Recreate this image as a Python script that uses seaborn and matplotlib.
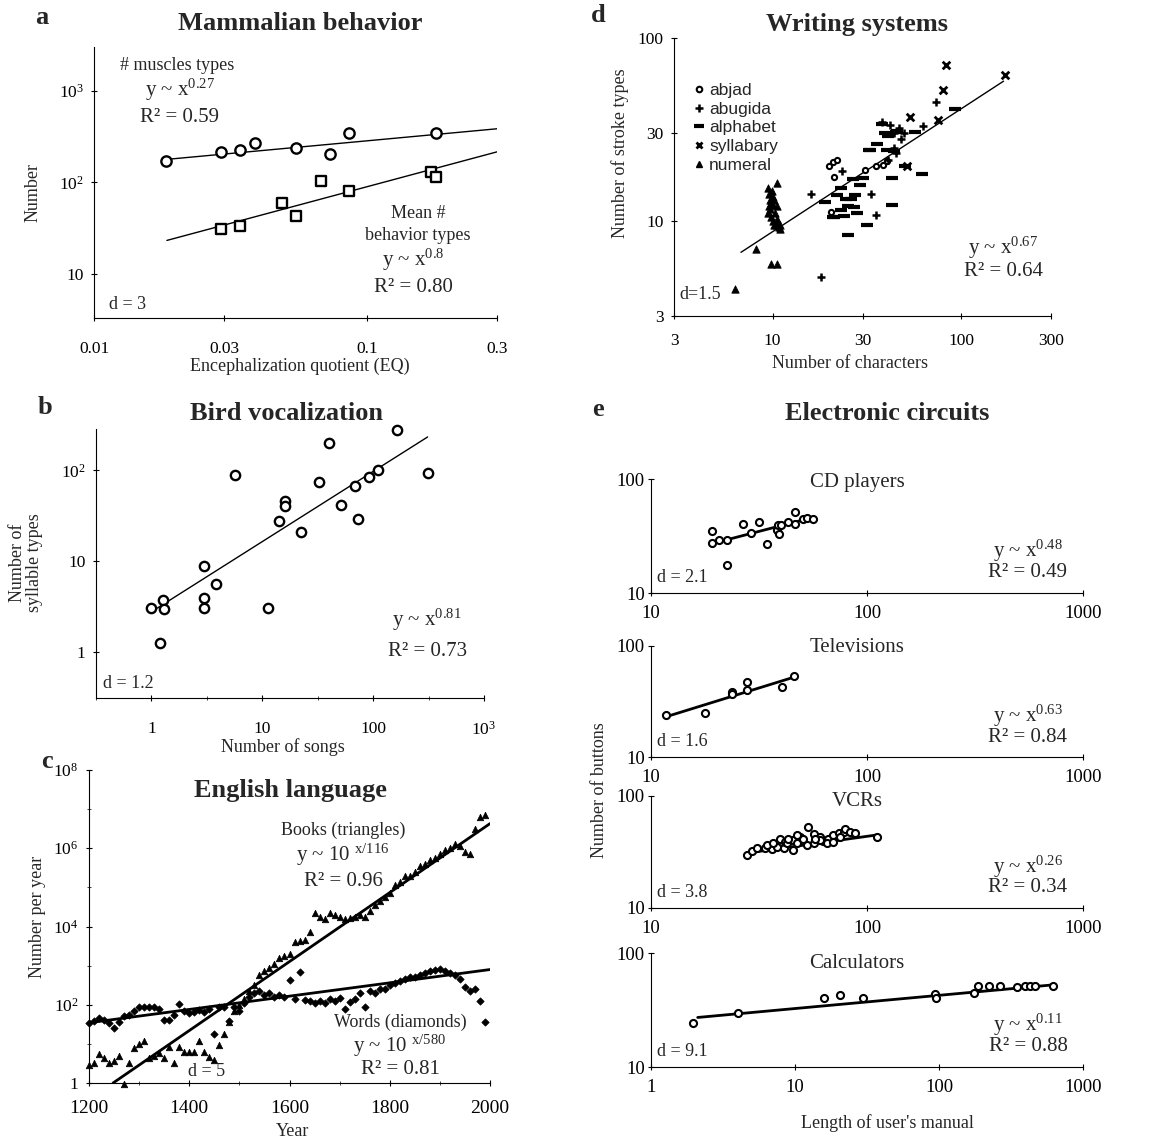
import numpy as np
import pandas as pd
import matplotlib
matplotlib.use("Agg")
import matplotlib.pyplot as plt
import seaborn as sns
from matplotlib.lines import Line2D
from matplotlib.ticker import NullLocator, FixedLocator, NullFormatter

sns.set_theme(style="ticks")
plt.rcParams['font.family'] = ['Liberation Serif', 'DejaVu Serif']
plt.rcParams['mathtext.fontset'] = 'custom'
plt.rcParams['mathtext.rm'] = 'Liberation Serif'
plt.rcParams['mathtext.it'] = 'Liberation Serif:italic'
plt.rcParams['mathtext.bf'] = 'Liberation Serif:bold'
plt.rcParams['axes.linewidth'] = 0.8

# ---------------- data ----------------
# a: Mammalian behavior
a_eq_muscle = [0.0184, 0.0293, 0.0342, 0.039, 0.055, 0.073, 0.086, 0.179]
a_muscles = [171, 215, 225, 270, 236, 202, 345, 345]
a_eq_behav = [0.0293, 0.0342, 0.049, 0.055, 0.068, 0.086, 0.172, 0.18]
a_behav = [31, 33.6, 60, 43, 103, 81, 130, 113]
a_fit_muscle_x = [0.0185, 0.3]
a_fit_muscle_y = [178, 384]
a_fit_behav_x = [0.0185, 0.3]
a_fit_behav_y = [23.2, 215]

# b: Bird vocalization
b_songs = [1.0, 1.27, 1.29, 1.19, 2.96, 2.96, 2.96, 3.82, 5.63, 11.2, 14.0, 15.9, 15.9,
           22.4, 32.8, 40.2, 51, 68.8, 72.8, 92.5, 110, 163, 310]
b_syll = [3.05, 3.8, 2.97, 1.26, 9.0, 4.0, 3.05, 5.6, 88, 3.05, 27.5, 46, 41,
          21, 75, 200, 42, 67, 29, 85, 100, 280, 94]
b_fit_x = [1.0, 310]
b_fit_y = [2.8, 233]

# c: English language (log10 of number per year)
c_years = [1200, 1210, 1220, 1230, 1240, 1250, 1260, 1270, 1280, 1290,
           1300, 1310, 1320, 1330, 1340, 1350, 1360, 1370, 1380, 1390,
           1400, 1410, 1420, 1430, 1440, 1450, 1460, 1470, 1480, 1490,
           1500, 1510, 1520, 1530, 1540, 1550, 1560, 1570, 1580, 1590,
           1600, 1610, 1620, 1630, 1640, 1650, 1660, 1670, 1680, 1690,
           1700, 1710, 1720, 1730, 1740, 1750, 1760, 1770, 1780, 1790,
           1800, 1810, 1820, 1830, 1840, 1850, 1860, 1870, 1880, 1890,
           1900, 1910, 1920, 1930, 1940, 1950, 1960, 1970, 1980, 1990]
c_words_log10 = [1.54, 1.58, 1.65, 1.6, 1.54, 1.4, 1.55, 1.7, 1.75, 1.85,
                 1.93, 1.95, 1.93, 1.95, 1.9, 1.6, 1.6, 1.75, 2.02, 1.84,
                 1.8, 1.82, 1.86, 1.82, 1.89, 1.26, 1.93, 1.95, 1.58, 1.95,
                 1.85, 2.05, 2.2, 2.3, 2.35, 2.25, 2.3, 2.2, 2.25, 2.2,
                 2.63, 2.15, 2.84, 2.12, 2.1, 2.05, 2.1, 2.05, 2.15, 2.1,
                 2.16, 1.9, 2.07, 2.15, 2.3, 1.95, 2.35, 2.3, 2.4, 2.4,
                 2.5, 2.55, 2.6, 2.65, 2.7, 2.72, 2.75, 2.8, 2.85, 2.9,
                 2.92, 2.85, 2.8, 2.75, 2.65, 2.45, 2.35, 2.4, 2.1, 1.55]
c_books_log10 = [0.45, 0.5, 0.73, 0.63, 0.5, 0.55, 0.7, -0.03, 0.5, 0.89,
                 1.0, 1.08, 0.63, 0.7, 0.76, 0.65, 0.93, 0.5, 0.93, 0.8,
                 0.8, 0.8, 1.08, 0.8, 0.67, 0.58, 0.97, 1.25, 1.55, 1.85,
                 2.0, 2.15, 2.35, 2.5, 2.75, 2.85, 2.95, 3.05, 3.2, 3.25,
                 3.3, 3.6, 3.62, 3.65, 3.85, 4.35, 4.25, 4.2, 4.35, 4.3,
                 4.25, 4.2, 4.22, 4.25, 4.3, 4.25, 4.4, 4.55, 4.65, 4.75,
                 4.85, 5.05, 5.15, 5.3, 5.3, 5.4, 5.55, 5.6, 5.7, 5.75,
                 5.85, 5.95, 6.0, 6.1, 6.05, 5.9, 5.85, 6.5, 6.8, 6.85]
c_fit_books_x = [1248, 2000]
c_fit_books_log10 = [0.0, 6.63]
c_fit_words_x = [1200, 2000]
c_fit_words_log10 = [1.54, 2.9]

# d: Writing systems (number of characters, number of stroke types)
d_abjad_x = [19.9, 21.0, 22.0, 21.2, 20.3, 30.8, 35.2, 38.5, 40.5]
d_abjad_y = [20.0, 20.8, 21.5, 17.3, 11.2, 19.0, 19.8, 20.2, 21.2]
d_abugida_x = [16, 18, 23.4, 33.3, 35.4, 38, 42, 44, 47, 50, 44, 45, 63, 74, 41, 48]
d_abugida_y = [13.9, 4.9, 18.7, 13.9, 10.7, 34.5, 33.5, 30, 32, 30, 25, 23.5, 33, 44.7, 21.5, 28]
d_alphabet_x = [19, 21.1, 24.4, 26, 25, 27.5, 28, 27, 25.2, 31.8, 32.3, 35.9, 39.3, 40.4,
                42.9, 42.9, 50.2, 61.7, 56.9, 93, 23.1, 26.6, 29, 22, 23.1, 21, 24, 38,
                41, 46, 44, 30, 33, 45]
d_alphabet_y = [12.7, 10.4, 13.1, 13.2, 12, 13.8, 11, 11.8, 8.3, 9.5, 24.3, 26.4, 30.1, 24.2,
                17.1, 12.1, 20, 17.9, 30.6, 40.7, 15, 16.9, 15.6, 13.8, 11.4, 10.5, 10.6, 34,
                29, 31, 24, 17, 24.5, 30.5]
d_syllabary_x = [83.4, 80, 75.9, 53.3, 51.6, 171]
d_syllabary_y = [71, 51.6, 35.6, 37, 20, 63]
d_numeral_x = [6.3, 8.2, 9.8, 10.5, 9.5, 9.6, 9.7, 9.8, 9.6, 9.7, 9.5, 9.8, 10, 10.2, 10.5,
               10.8, 11, 10.2, 10.5, 10.3, 10.5, 9.9, 10, 10.1, 10.6, 11]
d_numeral_y = [4.2, 7.0, 5.8, 5.8, 15, 14, 13, 12.5, 12, 11.5, 11, 10.5, 10, 9.5, 9.5,
               9.2, 9, 13, 12, 11, 16, 14.5, 13.5, 12.2, 10.2, 9.5]
d_fit_x = [6.8, 168]
d_fit_y = [6.7, 58]

# e: Electronic circuits (length of manual, number of buttons)
e_cd_x = [19.1, 19.1, 20.7, 22.6, 22.6, 26.8, 29, 31.7, 34.6, 38.5, 38.9, 39.3, 40,
          42.9, 46.5, 46.5, 50.8, 52.7, 56.5]
e_cd_y = [34.8, 27.5, 29.4, 29.4, 17.7, 40.3, 33.6, 41.7, 26.9, 36, 39.8, 33.1, 39.3,
          42, 51, 40.5, 44.9, 45.8, 44.9]
e_cd_fit_x = [19, 57]
e_cd_fit_y = [27, 46.4]
e_tv_x = [11.7, 17.8, 23.7, 23.7, 27.9, 27.9, 40.3, 45.7]
e_tv_y = [23.8, 25, 38.6, 36.8, 47.6, 40, 43, 53.6]
e_tv_fit_x = [11.7, 46.5]
e_tv_fit_y = [23, 52.8]
e_vcr_x = [27.9, 29.3, 30.9, 33.7, 36.2, 38.2, 41.1, 39.6, 41.7, 45.6, 45.6, 49, 53.6,
           56.6, 60.7, 62.8, 66.2, 69.8, 65, 73.9, 77.9, 79.3, 83.7, 88, 110.8, 34.4,
           36.9, 42.6, 47.3, 52.6, 56.6, 60.7, 69.8, 75, 57.5, 50.8, 43.3, 47.3]
e_vcr_y = [29.7, 32.4, 34, 34, 33.5, 35.3, 34, 40.9, 38.9, 32.8, 40.3, 43.3, 53,
           45.6, 43.3, 40, 41.7, 45, 37.7, 46.3, 47.9, 50.3, 47.9, 46.9, 43.3, 36.4,
           37.8, 37.8, 37.8, 36.4, 37.8, 40.3, 39, 42.7, 41.7, 41, 41.7, 44.6]
e_vcr_fit_x = [28, 112]
e_vcr_fit_y = [31, 45]
e_calc_x = [1.97, 4.0, 15.8, 20.6, 29.6, 94.2, 95, 174, 186, 224, 266, 348, 397, 430, 461, 615]
e_calc_y = [24.1, 29.5, 40.6, 42.9, 40.6, 43.5, 40.1, 44.4, 51.5, 51.5, 51.5, 50.1, 51.5,
            51.5, 51.5, 51.5]
e_calc_fit_x = [2.11, 625]
e_calc_fit_y = [27.2, 52.6]

# ---------------- layout helpers ----------------
W, H = 1156, 1143
fig = plt.figure(figsize=(W / 100, H / 100), dpi=100)
fig.patch.set_facecolor('white')


def box(l, t, r, b):
    return [l / W, 1 - b / H, (r - l) / W, (b - t) / H]


def ftext(x, y, s, size=13, ha='center', va='center', **kw):
    fig.text(x / W, 1 - y / H, s, fontsize=size, ha=ha, va=va, **kw)


def style(ax):
    sns.despine(ax=ax)
    for sp in ['left', 'bottom']:
        ax.spines[sp].set_color('black')
        ax.spines[sp].set_linewidth(0.8)
    ax.set_facecolor('white')
    ax.tick_params(which='major', direction='inout', length=5, width=0.8,
                   labelsize=12.5, colors='black', pad=5)
    ax.tick_params(which='minor', direction='inout', length=3, width=0.6)
    ax.grid(False)


def setticks(ax, axis, vals, labels, minor=None):
    a = ax.xaxis if axis == 'x' else ax.yaxis
    a.set_major_locator(FixedLocator(vals))
    if axis == 'x':
        ax.set_xticklabels(labels)
    else:
        ax.set_yticklabels(labels)
    a.set_minor_formatter(NullFormatter())
    if minor is None:
        a.set_minor_locator(NullLocator())
    else:
        a.set_minor_locator(FixedLocator(minor))


def label_pos(ax, axis, px, py):
    pos = ax.get_position()
    fx, fy = px / W, 1 - py / H
    ax_x = (fx - pos.x0) / pos.width
    ax_y = (fy - pos.y0) / pos.height
    if axis == 'x':
        ax.xaxis.set_label_coords(ax_x, ax_y)
        ax.xaxis.label.set_verticalalignment('center')
        ax.xaxis.label.set_horizontalalignment('center')
    else:
        ax.yaxis.set_label_coords(ax_x, ax_y)
        ax.yaxis.label.set_verticalalignment('center')
        ax.yaxis.label.set_horizontalalignment('center')


def scat(ax, x, y, marker, s, face='white', lw=1.5, z=3):
    df = pd.DataFrame({'x': x, 'y': y})
    if marker in ['+', 'x', '_']:
        sns.scatterplot(data=df, x='x', y='y', ax=ax, marker=marker, s=s, color='black',
                        linewidth=lw, clip_on=False, zorder=z, legend=False)
    else:
        sns.scatterplot(data=df, x='x', y='y', ax=ax, marker=marker, s=s, color=face,
                        edgecolor='black', linewidth=lw, clip_on=False, zorder=z, legend=False)


def fitline(ax, x, y, lw=1.0):
    df = pd.DataFrame({'x': x, 'y': y})
    sns.lineplot(data=df, x='x', y='y', ax=ax, color='black', linewidth=lw,
                 estimator=None, sort=False, legend=False, zorder=2)


sup = lambda p: r'$\mathregular{10^{%s}}$' % p

# ---------------- panel a ----------------
ax = fig.add_axes(box(94, 47, 497, 318))
style(ax)
ax.set_xscale('log'); ax.set_yscale('log')
fitline(ax, a_fit_muscle_x, a_fit_muscle_y)
fitline(ax, a_fit_behav_x, a_fit_behav_y)
scat(ax, a_eq_muscle, a_muscles, 'o', 55, lw=1.7)
scat(ax, a_eq_behav, a_behav, 's', 50, lw=1.7)
ax.set_xlim(0.01, 0.3); ax.set_ylim(3.3, 3000)
setticks(ax, 'x', [0.01, 0.03, 0.1, 0.3], ['0.01', '0.03', '0.1', '0.3'])
setticks(ax, 'y', [10, 100, 1000], ['10', sup(2), sup(3)])
ax.tick_params(axis='x', pad=14)
ax.set_xlabel('Encephalization quotient (EQ)', fontsize=13)
ax.set_ylabel('Number', fontsize=13)
label_pos(ax, 'x', 300, 366)
label_pos(ax, 'y', 33, 193)
ftext(42, 18, 'a', size=19, weight='bold')
ftext(300, 23, 'Mammalian behavior', size=19, weight='bold')
ftext(177, 65, '# muscles types', size=13)
ftext(180, 90, r'y ~ x$^{\mathregular{0.27}}$', size=15)
ftext(180, 117, 'R² = 0.59', size=15)
ftext(418, 213, 'Mean #', size=13)
ftext(418, 235, 'behavior types', size=13)
ftext(413, 260, r'y ~ x$^{\mathregular{0.8}}$', size=15)
ftext(413, 288, 'R² = 0.80', size=15)
ftext(128, 305, 'd = 3', size=13)

# ---------------- panel b ----------------
ax = fig.add_axes(box(96, 429, 484, 698))
style(ax)
ax.set_xscale('log'); ax.set_yscale('log')
fitline(ax, b_fit_x, b_fit_y)
scat(ax, b_songs, b_syll, 'o', 45, lw=1.7)
ax.set_xlim(0.316, 1000); ax.set_ylim(0.316, 285)
setticks(ax, 'x', [1, 10, 100, 1000], ['1', '10', '100', sup(3)],
         minor=[0.316, 3.16, 31.6, 316])
setticks(ax, 'y', [1, 10, 100], ['1', '10', sup(2)])
ax.tick_params(axis='x', pad=14)
ax.set_xlabel('Number of songs', fontsize=13)
ax.set_ylabel('Number of\nsyllable types', fontsize=13, linespacing=0.95)
label_pos(ax, 'x', 283, 747)
label_pos(ax, 'y', 26, 563)
ftext(45, 407, 'b', size=19, weight='bold')
ftext(287, 413, 'Bird vocalization', size=19, weight='bold')
ftext(427, 620, r'y ~ x$^{\mathregular{0.81}}$', size=15)
ftext(428, 652, 'R² = 0.73', size=15)
ftext(128, 684, 'd = 1.2', size=13)

# ---------------- panel c ----------------
ax = fig.add_axes(box(89, 770, 490, 1083))
style(ax)
ax.set_yscale('log')
fitline(ax, c_fit_books_x, np.power(10.0, c_fit_books_log10), lw=2.0)
fitline(ax, c_fit_words_x, np.power(10.0, c_fit_words_log10), lw=2.0)
scat(ax, c_years, np.power(10.0, c_books_log10), '^', 22, face='black', lw=0.5)
scat(ax, c_years, np.power(10.0, c_words_log10), 'D', 14, face='black', lw=0.5)
ax.set_xlim(1200, 2000); ax.set_ylim(1, 1e8)
setticks(ax, 'x', [1200, 1400, 1600, 1800, 2000], ['1200', '1400', '1600', '1800', '2000'],
         minor=[1300, 1500, 1700, 1900])
setticks(ax, 'y', [1, 1e2, 1e4, 1e6, 1e8], ['1', sup(2), sup(4), sup(6), sup(8)],
         minor=[10, 1e3, 1e5, 1e7])
ax.tick_params(axis='x', pad=10, labelsize=14)
ax.set_xlabel('Year', fontsize=13)
ax.set_ylabel('Number per year', fontsize=13)
label_pos(ax, 'x', 293, 1132)
label_pos(ax, 'y', 38, 917)
ftext(47, 762, 'c', size=19, weight='bold')
ftext(290, 790, 'English language', size=19, weight='bold')
ftext(343, 830, 'Books (triangles)', size=13)
ftext(343, 855, r'y ~ 10 $^{\mathregular{x/116}}$', size=15)
ftext(343, 882, 'R² = 0.96', size=15)
ftext(400, 1022, 'Words (diamonds)', size=13)
ftext(400, 1046, r'y ~ 10 $^{\mathregular{x/580}}$', size=15)
ftext(400, 1070, 'R² = 0.81', size=15)
ftext(207, 1072, 'd = 5', size=13)

# ---------------- panel d ----------------
ax = fig.add_axes(box(674, 38, 1051, 316))
style(ax)
ax.set_xscale('log'); ax.set_yscale('log')
fitline(ax, d_fit_x, d_fit_y)
scat(ax, d_abjad_x, d_abjad_y, 'o', 14, face='white', lw=1.5)
scat(ax, d_abugida_x, d_abugida_y, '+', 30, lw=1.8)
scat(ax, d_alphabet_x, d_alphabet_y, '_', 65, lw=3.0)
scat(ax, d_syllabary_x, d_syllabary_y, 'x', 30, lw=2.0)
scat(ax, d_numeral_x, d_numeral_y, '^', 28, face='black', lw=0.6)
ax.set_xlim(3, 300); ax.set_ylim(3, 100)
setticks(ax, 'x', [3, 10, 30, 100, 300], ['3', '10', '30', '100', '300'])
setticks(ax, 'y', [3, 10, 30, 100], ['3', '10', '30', '100'])
ax.tick_params(axis='x', pad=10)
ax.set_xlabel('Number of characters', fontsize=13)
ax.set_ylabel('Number of stroke types', fontsize=13)
label_pos(ax, 'x', 850, 364)
label_pos(ax, 'y', 620, 153)
handles = [
    Line2D([], [], marker='o', ls='none', mfc='white', mec='black', mew=1.5, ms=4, label='abjad'),
    Line2D([], [], marker='+', ls='none', color='black', mew=1.8, ms=6, label='abugida'),
    Line2D([], [], marker='_', ls='none', color='black', mew=3.0, ms=7, label='alphabet'),
    Line2D([], [], marker='x', ls='none', color='black', mew=2.0, ms=5, label='syllabary'),
    Line2D([], [], marker='^', ls='none', mfc='black', mec='black', ms=5, label='numeral'),
]
leg = ax.legend(handles=handles, loc='upper left', bbox_to_anchor=((683 - 674) / 377, (316 - 76) / 278),
                frameon=False, prop={'family': 'Liberation Sans', 'size': 12.5},
                handletextpad=0.1, handlelength=1.0, labelspacing=0.2, borderaxespad=0)
ftext(598, 15, 'd', size=19, weight='bold')
ftext(857, 25, 'Writing systems', size=19, weight='bold')
ftext(1003, 248, r'y ~ x$^{\mathregular{0.67}}$', size=15)
ftext(1003, 272, 'R² = 0.64', size=15)
ftext(700, 295, 'd=1.5', size=13)

# ---------------- panel e ----------------
ftext(598, 410, 'e', size=19, weight='bold')
ftext(887, 413, 'Electronic circuits', size=19, weight='bold')

e_specs = [
    ('CD players', (479, 593), 482, e_cd_x, e_cd_y, e_cd_fit_x, e_cd_fit_y, (10, 1000), '0.48', '0.49', '2.1'),
    ('Televisions', (646, 757), 648, e_tv_x, e_tv_y, e_tv_fit_x, e_tv_fit_y, (10, 1000), '0.63', '0.84', '1.6'),
    ('VCRs', (796, 908), 802, e_vcr_x, e_vcr_y, e_vcr_fit_x, e_vcr_fit_y, (10, 1000), '0.26', '0.34', '3.8'),
    ('Calculators', (953, 1067), 963, e_calc_x, e_calc_y, e_calc_fit_x, e_calc_fit_y, (1, 1000), '0.11', '0.88', '9.1'),
]
for i, (name, (top, bot), ty, xs, ys, fx, fy, xl, expo, r2, dd) in enumerate(e_specs):
    ax = fig.add_axes(box(651, top, 1083, bot))
    style(ax)
    ax.set_xscale('log'); ax.set_yscale('log')
    fitline(ax, fx, fy, lw=2.0)
    scat(ax, xs, ys, 'o', 26, face='white', lw=1.5)
    ax.set_xlim(*xl); ax.set_ylim(10, 100)
    if xl[0] == 1:
        setticks(ax, 'x', [1, 10, 100, 1000], ['1', '10', '100', '1000'])
    else:
        setticks(ax, 'x', [10, 100, 1000], ['10', '100', '1000'])
    setticks(ax, 'y', [10, 100], ['10', '100'])
    ax.tick_params(axis='x', pad=6, labelsize=13.5)
    ax.tick_params(axis='y', labelsize=13.5, pad=2)
    ax.set_xlabel(''); ax.set_ylabel('')
    ftext(857, ty, name, size=15)
    ftext(1028, top + (bot - top) * 0.63, r'y ~ x$^{\mathregular{%s}}$' % expo, size=15)
    ftext(1028, top + (bot - top) * 0.82, 'R² = %s' % r2, size=15)
    ftext(682, top + (bot - top) * 0.86, 'd = %s' % dd, size=13)
    if i == 3:
        ax.set_xlabel("Length of user's manual", fontsize=13)
        label_pos(ax, 'x', 887, 1123)

ftext(600, 790, 'Number of buttons', size=13, rotation=90)

fig.savefig('out.png', dpi=100, facecolor='white')
